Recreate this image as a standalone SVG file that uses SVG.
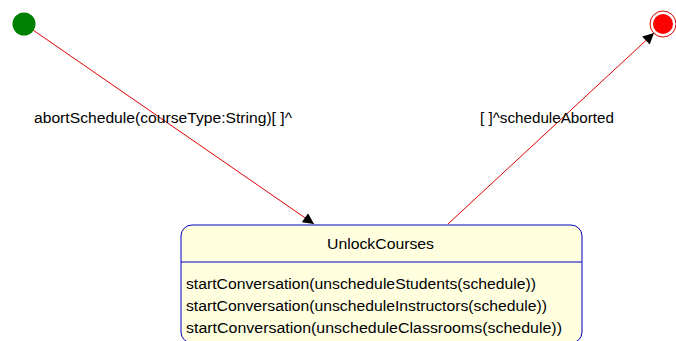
<svg xmlns="http://www.w3.org/2000/svg" width="676" height="341" viewBox="0 0 676 341">
<style>
text{font-family:"Liberation Sans",Arial,sans-serif;font-size:14px;fill:#000}
.edge{stroke:#e00000;stroke-width:1;fill:none}
</style>
<defs>
<marker id="arr" viewBox="0 0 10 10" refX="10" refY="5" markerWidth="18" markerHeight="11" markerUnits="userSpaceOnUse" orient="auto">
<path d="M0,0 L10,5 L0,10 z" fill="#000"/>
</marker>
</defs>
<rect width="676" height="341" fill="#fff"/>
<g id="connectors">
<path class="edge" d="M33,30 L314,224" marker-end="url(#arr)"/>
<path class="edge" d="M448,224 L654,33" marker-end="url(#arr)"/>
<text x="34" y="123" textLength="258" lengthAdjust="spacingAndGlyphs">abortSchedule(courseType:String)[ ]^</text>
<text x="480" y="123" textLength="134" lengthAdjust="spacingAndGlyphs">[ ]^scheduleAborted</text>
</g>
<g id="initial">
<circle cx="24" cy="24" r="11.5" fill="#008000"/>
</g>
<g id="final">
<circle cx="663" cy="24" r="13" fill="#fff" stroke="#e00000" stroke-width="1"/>
<circle cx="663" cy="24" r="10" fill="#ff0000"/>
</g>
<g id="UnlockCourses">
<rect x="181" y="225" width="401" height="118" rx="11" ry="11" fill="#ffffe0" stroke="#0000c0" stroke-width="1"/>
<line x1="181" y1="262" x2="582" y2="262" stroke="#0000c0" stroke-width="1"/>
<text x="327" y="249" textLength="107" lengthAdjust="spacingAndGlyphs">UnlockCourses</text>
<text x="186" y="289" textLength="350" lengthAdjust="spacingAndGlyphs">startConversation(unscheduleStudents(schedule))</text>
<text x="186" y="311" textLength="361" lengthAdjust="spacingAndGlyphs">startConversation(unscheduleInstructors(schedule))</text>
<text x="186" y="333" textLength="376" lengthAdjust="spacingAndGlyphs">startConversation(unscheduleClassrooms(schedule))</text>
</g>
</svg>
